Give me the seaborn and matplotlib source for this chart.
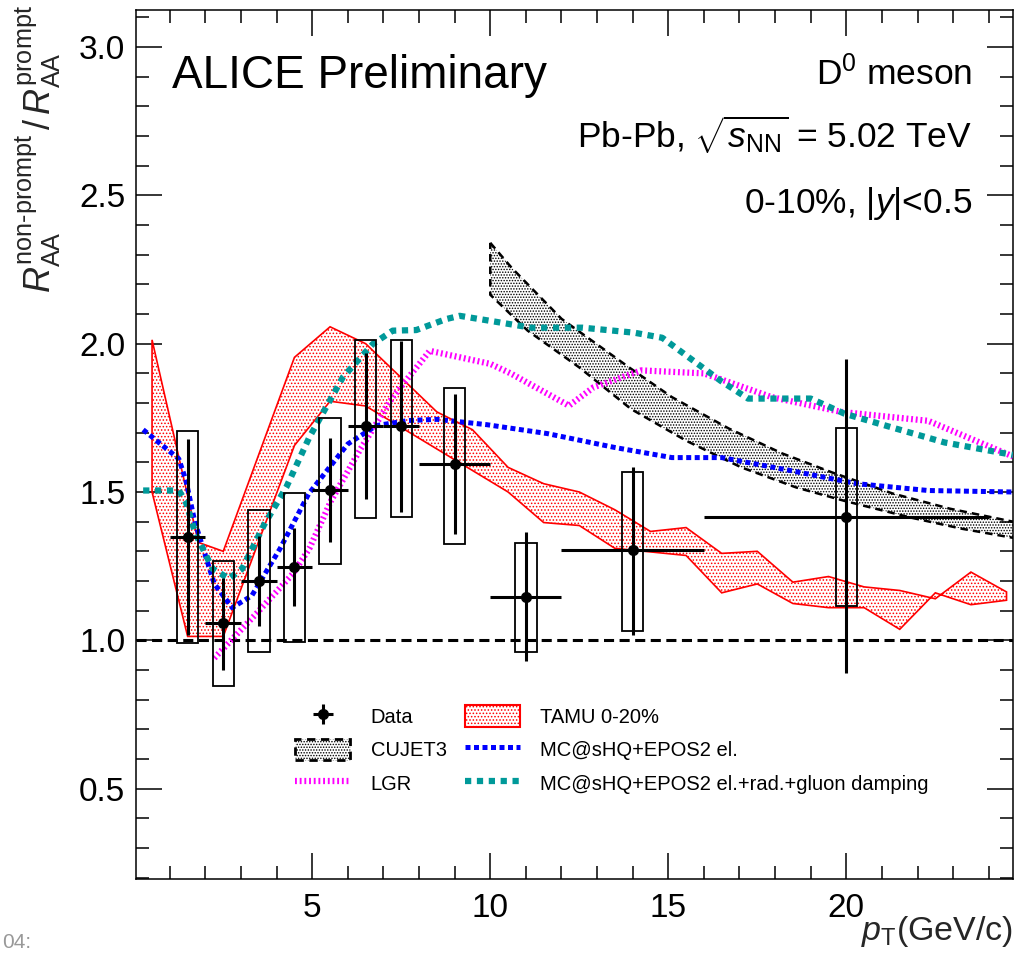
import matplotlib
matplotlib.use("Agg")
import matplotlib.pyplot as plt
import matplotlib.ticker as mticker
from matplotlib.lines import Line2D
from matplotlib.patches import Patch
import numpy as np
import seaborn as sns

# ---- measured points (D0 non-prompt / prompt R_AA, 0-10%) ----
pt = [1.5, 2.5, 3.5, 4.5, 5.5, 6.5, 7.5, 9.0, 11.0, 14.0, 20.0]
pt_lo = [1, 2, 3, 4, 5, 6, 7, 8, 10, 12, 16]
pt_hi = [2, 3, 4, 5, 6, 7, 8, 10, 12, 16, 24]
ratio = [1.347, 1.057, 1.200, 1.246, 1.508, 1.723, 1.723, 1.595, 1.145, 1.303, 1.417]
stat_hi = [1.68, 1.21, 1.353, 1.38, 1.683, 1.97, 2.01, 1.83, 1.364, 1.585, 1.95]
stat_lo = [1.017, 0.90, 1.047, 1.115, 1.33, 1.478, 1.434, 1.357, 0.93, 1.017, 0.889]
syst_hi = [1.707, 1.266, 1.44, 1.495, 1.75, 2.013, 2.013, 1.852, 1.327, 1.566, 1.717]
syst_lo = [0.99, 0.845, 0.96, 0.995, 1.256, 1.414, 1.417, 1.323, 0.96, 1.03, 1.114]

# ---- TAMU 0-20% band ----
tamu_up_x = [0.5, 1.8, 2.5, 4.5, 5.5, 6.5, 7.5, 8.5, 9.5, 10.5, 11.5, 12.5, 13.5, 14.5,
             15.5, 16.5, 17.5, 18.5, 19.5, 20.5, 21.5, 22.5, 23.5, 24.5]
tamu_up = [2.013, 1.33, 1.30, 1.954, 2.057, 2.0, 1.885, 1.77, 1.71, 1.583, 1.528, 1.50, 1.44,
           1.367, 1.38, 1.293, 1.30, 1.196, 1.215, 1.18, 1.168, 1.14, 1.23, 1.163]
tamu_lo_x = [0.5, 1.5, 2.5, 4.5, 5.5, 6.5, 10.5, 11.5, 12.5, 13.5, 14.5, 15.5, 16.5, 17.5,
             18.5, 19.5, 20.5, 21.5, 22.5, 23.5, 24.5]
tamu_lo = [1.50, 1.013, 1.013, 1.657, 1.806, 1.79, 1.50, 1.397, 1.387, 1.31, 1.298, 1.286,
           1.16, 1.19, 1.124, 1.11, 1.11, 1.037, 1.16, 1.12, 1.135]

# ---- CUJET3 band ----
cujet_up_x = [10.0, 10.6, 12.0, 13.9, 15.1, 16.7, 18.2, 19.6, 21.3, 22.9, 24.8]
cujet_up = [2.34, 2.256, 2.084, 1.92, 1.82, 1.714, 1.63, 1.566, 1.495, 1.444, 1.397]
cujet_lo_x = [10.0, 11.05, 12.5, 13.95, 15.5, 17.05, 18.6, 19.95, 21.8, 23.25, 24.8]
cujet_lo = [2.165, 2.044, 1.92, 1.78, 1.673, 1.583, 1.515, 1.47, 1.414, 1.376, 1.343]

# ---- LGR ----
lgr_x = [2.25, 3.43, 4.46, 4.92, 5.53, 6.33, 7.26, 8.3, 10.0, 10.57, 12.21, 12.9, 14.24,
         16.0, 17.9, 19.86, 22.3, 24.68]
lgr_y = [0.94, 1.09, 1.225, 1.31, 1.471, 1.64, 1.82, 1.976, 1.932, 1.90, 1.791, 1.853, 1.91,
         1.90, 1.82, 1.77, 1.74, 1.62]

# ---- MC@sHQ+EPOS2 el. ----
el_x = [0.25, 1.25, 1.45, 1.7, 2.25, 2.75, 3.3, 4.1, 4.9, 6.0, 6.8, 7.7, 8.5, 9.9, 11.6,
        13.5, 15.1, 16.5, 18.4, 20.3, 22.3, 24.68]
el_y = [1.71, 1.612, 1.54, 1.40, 1.19, 1.11, 1.15, 1.31, 1.494, 1.662, 1.724, 1.741, 1.745,
        1.727, 1.697, 1.65, 1.616, 1.616, 1.573, 1.528, 1.505, 1.5]

# ---- MC@sHQ+EPOS2 el.+rad.+gluon damping ----
rad_x = [0.25, 1.25, 1.45, 1.72, 2.2, 2.66, 3.03, 3.65, 4.27, 4.92, 5.86, 6.7, 7.26, 7.92,
         8.76, 9.14, 10.0, 11.15, 12.6, 14.05, 14.83, 15.7, 16.47, 17.24, 19.0, 19.95, 21.3,
         22.76, 24.68]
rad_y = [1.505, 1.505, 1.466, 1.36, 1.241, 1.208, 1.241, 1.39, 1.516, 1.685, 1.887, 1.999,
         2.044, 2.046, 2.083, 2.094, 2.077, 2.054, 2.054, 2.037, 2.02, 1.943, 1.875, 1.815,
         1.815, 1.764, 1.717, 1.667, 1.625]

legend_labels = ["Data", "CUJET3", "LGR", "TAMU 0-20%", "MC@sHQ+EPOS2 el.",
                 "MC@sHQ+EPOS2 el.+rad.+gluon damping"]

sns.set_theme(style="ticks")
plt.rcParams['font.family'] = ['Liberation Sans', 'DejaVu Sans']
plt.rcParams['mathtext.fontset'] = 'custom'
plt.rcParams['mathtext.rm'] = 'Liberation Sans'
plt.rcParams['mathtext.it'] = 'Liberation Sans:italic'
plt.rcParams['mathtext.bf'] = 'Liberation Sans:bold'
plt.rcParams['mathtext.sf'] = 'Liberation Sans'
plt.rcParams['hatch.linewidth'] = 0.7
plt.rcParams['text.color'] = 'black'

fig = plt.figure(figsize=(10.17, 9.56), dpi=100)
ax = fig.add_axes([0.1334, 0.0805, 0.8626, 0.909])

RED = '#ff0000'
BLUE = '#0000ff'
TEAL = '#009999'
MAGENTA = '#ff00ff'
ls_lgr = (0, (0.3, 0.45))
ls_el = (0, (1.0, 0.7))
ls_rad = (0, (1.0, 0.9))
ls_cujet = (0, (3, 2))

# bands
ax.fill(np.r_[tamu_up_x, tamu_lo_x[::-1]], np.r_[tamu_up, tamu_lo[::-1]],
        facecolor='none', edgecolor=RED, hatch='.....', linewidth=1.2, zorder=1)
ax.fill(np.r_[cujet_up_x, cujet_lo_x[::-1]], np.r_[cujet_up, cujet_lo[::-1]],
        facecolor='none', edgecolor='black', hatch='......', linewidth=1.8,
        linestyle=ls_cujet, zorder=2)

ax.axhline(1.0, color='black', lw=2.2, ls=(0, (3.3, 1.8)), zorder=3)

# model curves
sns.lineplot(x=lgr_x, y=lgr_y, ax=ax, color=MAGENTA, lw=4.5, linestyle=ls_lgr,
             sort=False, estimator=None, legend=False, zorder=4)
sns.lineplot(x=el_x, y=el_y, ax=ax, color=BLUE, lw=3.6, linestyle=ls_el,
             sort=False, estimator=None, legend=False, zorder=4)
sns.lineplot(x=rad_x, y=rad_y, ax=ax, color=TEAL, lw=4.5, linestyle=ls_rad,
             sort=False, estimator=None, legend=False, zorder=4)

# data: systematic boxes + statistical bars
ax.bar(pt, height=np.subtract(syst_hi, syst_lo), bottom=syst_lo, width=0.6, fill=False,
       edgecolor='black', linewidth=1.3, zorder=5)
pt_arr = np.array(pt)
r_arr = np.array(ratio)
data_eb = ax.errorbar(pt_arr, r_arr,
                      xerr=[pt_arr - np.array(pt_lo), np.array(pt_hi) - pt_arr],
                      yerr=[r_arr - np.array(stat_lo), np.array(stat_hi) - r_arr],
                      fmt='o', color='black', ms=7, elinewidth=2.2, capsize=0, zorder=6)

ax.set_xlim(0.04, 24.68)
ax.set_ylim(0.195, 3.125)
ax.xaxis.set_major_locator(mticker.MultipleLocator(5))
ax.xaxis.set_minor_locator(mticker.MultipleLocator(1))
ax.yaxis.set_major_locator(mticker.MultipleLocator(0.5))
ax.yaxis.set_minor_locator(mticker.MultipleLocator(0.1))
ax.yaxis.set_major_formatter(mticker.FormatStrFormatter('%.1f'))
ax.tick_params(which='both', direction='in', top=True, right=True, colors='black',
               width=1.1, labelsize=24)
ax.tick_params(which='major', length=18.7)
ax.tick_params(which='minor', length=9.4)
ax.tick_params(axis='x', pad=10)
ax.tick_params(axis='y', pad=7.5)
for sp in ax.spines.values():
    sp.set_linewidth(1.1)
    sp.set_color('black')

ax.set_ylabel(r'$R_{\mathrm{AA}}^{\text{non-prompt}}\,/\,R_{\mathrm{AA}}^{\mathrm{prompt}}$',
              fontsize=26, loc='top')
ax.yaxis.set_label_coords(-0.083, 1.006)
ax.set_xlabel(r'$p_{\mathrm{T}}$(GeV/c)', fontsize=24.5, loc='right')
ax.xaxis.set_label_coords(1.0, -0.04)

# annotations
fig.text(172 / 1017, 1 - 88 / 956, 'ALICE Preliminary', fontsize=33, va='baseline')
fig.text(972 / 1017, 1 - 85 / 956, r'D$^{0}$ meson', fontsize=25.5, ha='right', va='baseline')
fig.text(972 / 1017, 1 - 148 / 956, r'Pb-Pb, $\sqrt{s_{\mathrm{NN}}}$ = 5.02 TeV',
         fontsize=25.5, ha='right', va='baseline')
fig.text(972 / 1017, 1 - 213 / 956, r'0-10%, |$y$|<0.5', fontsize=25.5, ha='right',
         va='baseline')
fig.text(2 / 1017, 1 - 948 / 956, '04:', fontsize=15, color='#999999', va='baseline')

# legend
handles = [
    data_eb,
    Patch(facecolor='none', edgecolor='black', hatch='......', linestyle=ls_cujet, linewidth=2),
    Line2D([], [], color=MAGENTA, lw=4.5, ls=ls_lgr),
    Patch(facecolor='none', edgecolor=RED, hatch='.....', linewidth=1.5),
    Line2D([], [], color=BLUE, lw=3.6, ls=ls_el),
    Line2D([], [], color=TEAL, lw=4.5, ls=ls_rad),
]
ax.legend(handles, legend_labels, ncol=2, loc='upper left',
          bbox_to_anchor=(295 / 1017, 1 - 705 / 956), bbox_transform=fig.transFigure,
          frameon=False, fontsize=14.5, handlelength=2.75, handleheight=1.3,
          handletextpad=1.0, columnspacing=0.9, labelspacing=0.575, borderpad=0,
          borderaxespad=0)

fig.savefig('out.png', dpi=100)
plt.close(fig)
